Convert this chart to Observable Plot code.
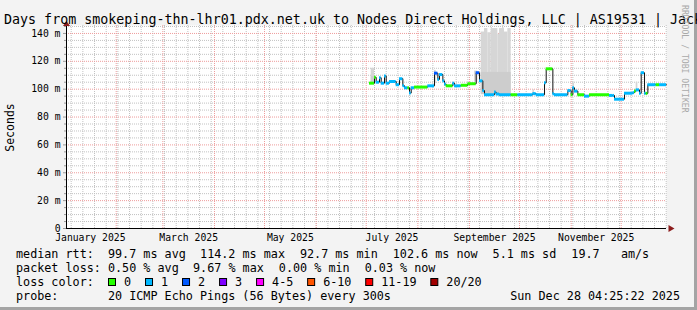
<!DOCTYPE html>
<html><head><meta charset="utf-8">
<script src="https://cdn.jsdelivr.net/npm/d3@7"></script>
<script src="https://cdn.jsdelivr.net/npm/@observablehq/plot@0.6"></script>
<style>
html,body{margin:0;padding:0;background:#f3f3f3;}
svg{display:block}
</style></head><body><div id="chart"></div>
<script>
// ---------- data ----------
const titleText = "Days from smokeping-thn-lhr01.pdx.net.uk to Nodes Direct Holdings, LLC | AS19531 | Jack";
const yAxisLabel = "Seconds";
const watermark = "RRDTOOL / TOBI OETIKER";
const timeStart = "2025-01-02T04:25:22Z";
const timeEnd = "2025-12-28T04:25:22Z";
const yMax = 145.7;
const yTicks = [0, 20, 40, 60, 80, 100, 120, 140];
const yTickLabels = ["0", "20 m", "40 m", "60 m", "80 m", "100 m", "120 m", "140 m"];
const monthLabels = ["January 2025", "March 2025", "May 2025", "July 2025", "September 2025", "November 2025"];

const medianDates = ["2025-07-03","2025-07-06","2025-07-07","2025-07-09","2025-07-10","2025-07-12","2025-07-13","2025-07-15","2025-07-19","2025-07-21","2025-07-23","2025-07-24","2025-07-26","2025-07-27","2025-07-28","2025-07-30","2025-08-07","2025-08-11","2025-08-13","2025-08-14","2025-08-16","2025-08-17","2025-08-18","2025-08-22","2025-08-23","2025-08-27","2025-08-31","2025-09-05","2025-09-07","2025-09-09","2025-09-10","2025-09-16","2025-09-17","2025-09-19","2025-09-26","2025-09-30","2025-10-09","2025-10-11","2025-10-16","2025-10-17","2025-10-21","2025-10-22","2025-10-30","2025-11-01","2025-11-02","2025-11-03","2025-11-05","2025-11-09","2025-11-12","2025-11-24","2025-11-26","2025-11-27","2025-12-03","2025-12-08","2025-12-09","2025-12-10","2025-12-12","2025-12-13","2025-12-15","2025-12-16","2025-12-17","2025-12-22","2025-12-24"];
const medianValues = [104.3,108.5,105.0,108.2,104.3,109.5,104.3,105.5,103.2,107.5,102.5,101.0,101.0,97.2,101.0,101.5,102.4,111.5,107.0,110.5,106.0,103.7,102.4,104.3,102.4,102.8,103.9,111.8,106.0,99.0,96.0,97.9,96.5,96.0,96.0,96.0,96.8,96.0,104.6,114.6,96.7,96.0,99.0,96.0,101.0,98.6,96.0,95.0,96.0,95.5,95.5,92.8,97.1,97.5,98.6,99.5,97.0,111.8,97.0,97.0,103.2,103.2,103.2];
const medianLoss = [0,0,1,1,1,1,1,1,1,1,1,1,0,1,1,0,1,2,1,1,1,1,0,1,1,0,0,2,1,1,1,1,1,1,0,1,1,1,1,0,1,1,1,0,1,1,0,1,0,1,1,1,1,1,0,1,1,1,1,0,1,0,1];
const medianEnd = "2025-12-28T04:25:22Z";

const smokeStart = ["2025-07-04","2025-08-11","2025-09-04","2025-09-08","2025-09-10","2025-09-12","2025-09-14","2025-09-18","2025-09-19","2025-09-22","2025-09-24","2025-10-09","2025-11-02","2025-12-10"];
const smokeEnd   = ["2025-07-06","2025-08-12","2025-09-06","2025-09-10","2025-09-12","2025-09-14","2025-09-18","2025-09-19","2025-09-22","2025-09-24","2025-09-26","2025-10-10","2025-11-03","2025-12-11"];
const smokeLo = [104, 104, 105, 97, 96, 96, 96, 96, 96, 96, 96, 96.5, 99, 99];
const smokeHi = [115, 113.5, 113, 141, 143.5, 140.5, 143.5, 139.5, 143.5, 141, 143.5, 99.5, 104.5, 105];
const innerStart = ["2025-07-04","2025-09-08"];
const innerEnd = ["2025-07-06","2025-09-26"];
const innerLo = [104, 96];
const innerHi = [109, 112];

const lossLabels = ["0","1","2","3","4-5","6-10","11-19","20/20"];
const lossColors = ["#26ff00","#00b8ff","#0059ff","#7e00ff","#ff00ff","#ff5500","#ff0000","#a10000"];
const rttValues = ["99.7","114.2","92.7","102.6","5.1","19.7"];
const lossValues = ["0.50","9.67","0.00","0.03"];
const probeText = "20 ICMP Echo Pings (56 Bytes) every 300s";
const stampText = "Sun Dec 28 04:25:22 2025";

// ---------- derived ----------
const day = s => new Date(s.length > 10 ? s : s + "T00:00:00Z");
const t0 = new Date(timeStart), t1 = new Date(timeEnd);
const rows = medianDates.map((d, i) => ({
  date: day(d),
  next: i < medianDates.length - 1 ? day(medianDates[i + 1]) : new Date(medianEnd),
  value: medianValues[i],
  color: lossColors[medianLoss[i]]
}));
const linePts = rows.map(r => ({date: r.date, value: r.value}))
  .concat([{date: new Date(medianEnd), value: medianValues[medianValues.length - 1]}]);
const smoke = smokeStart.map((s, i) => ({s: day(s), e: day(smokeEnd[i]), lo: smokeLo[i], hi: smokeHi[i]}));
const inner = innerStart.map((s, i) => ({s: day(s), e: day(innerEnd[i]), lo: innerLo[i], hi: innerHi[i]}));

const months = d3.utcMonth.range(t0, t1);
const weeks = d3.utcSunday.range(t0, t1);
const minorY = d3.range(5, yMax, 5).filter(v => v % 20 !== 0);
const majorY = yTicks.filter(v => v > 0);
const parseMonth = d3.utcParse("%B %Y");
const labelDates = monthLabels.map(s => {
  const m = parseMonth(s);
  return new Date((+m + +d3.utcMonth.offset(m, 1)) / 2);
});

const triUp = {draw(c) { c.moveTo(0, -4.5); c.lineTo(3.5, 0.5); c.lineTo(-3.5, 0.5); c.closePath(); }};
const triRight = {draw(c) { c.moveTo(8, 0); c.lineTo(2, 3.5); c.lineTo(2, -3.5); c.closePath(); }};

const mono = "'DejaVu Sans Mono', monospace";
const gridGrey = "#c2c2c2";
const gridRed = "#ee9c9c";

const plot = Plot.plot({
  width: 697, height: 310,
  marginLeft: 66, marginRight: 31, marginTop: 25, marginBottom: 82,
  style: {background: "#f3f3f3", fontFamily: mono, fontSize: "9.75px", color: "#000", overflow: "visible"},
  x: {type: "utc", domain: [t0, t1], axis: null},
  y: {domain: [0, yMax], axis: null},
  color: {type: "identity"},
  marks: [
    Plot.frame({fill: "white", stroke: "none"}),
    Plot.ruleX(weeks, {stroke: gridGrey, strokeDasharray: "1,1"}),
    Plot.ruleY(minorY, {stroke: gridGrey, strokeDasharray: "1,1"}),
    Plot.ruleX(months, {stroke: gridRed, strokeDasharray: "1,1"}),
    Plot.ruleY(majorY, {stroke: gridRed, strokeDasharray: "1,1"}),
    Plot.rect(smoke, {x1: "s", x2: "e", y1: "lo", y2: "hi", fill: "#d6d6d6"}),
    Plot.rect(inner, {x1: "s", x2: "e", y1: "lo", y2: "hi", fill: "#cdcdcd"}),
    Plot.line(linePts, {x: "date", y: "value", curve: "step-after", stroke: "#111", strokeWidth: 1}),
    Plot.ruleY(rows, {y: "value", x1: "date", x2: "next", stroke: "color", strokeWidth: 3}),
    Plot.axisY({ticks: minorY, tickSize: 2, tickFormat: () => "", stroke: "#999"}),
    Plot.axisY({ticks: yTicks, tickSize: 3, tickPadding: 3, stroke: "#999", fill: "#000",
      tickFormat: d => yTickLabels[yTicks.indexOf(d)], fontFamily: mono, fontSize: "9.75px"}),
    Plot.axisX({ticks: labelDates, tickSize: 0, tickPadding: 6, fill: "#000",
      tickFormat: d => monthLabels[labelDates.findIndex(t => +t === +d)], fontFamily: mono, fontSize: "9.75px"}),
    Plot.ruleX([t0], {stroke: "#000"}),
    Plot.ruleY([0], {stroke: "#000"}),
    Plot.dot([t0], {x: d => d, y: () => yMax, symbol: triUp, fill: "#8c1c1c", stroke: "none"}),
    Plot.dot([t1], {x: d => d, y: () => 0, symbol: triRight, fill: "#8c1c1c", stroke: "none"})
  ]
});

const svg = d3.select(plot);
function txt(x, y, s, size, extra = {}) {
  const t = svg.append("text")
    .attr("x", x).attr("y", y)
    .attr("xml:space", "preserve")
    .style("white-space", "pre")
    .style("font-family", mono)
    .style("font-size", size + "px")
    .attr("fill", extra.fill || "#000")
    .attr("text-anchor", extra.anchor || "start")
    .text(s);
  if (extra.transform) t.attr("transform", extra.transform).attr("x", 0).attr("y", 0);
  return t;
}

// border shading
svg.append("rect").attr("x", 694).attr("y", 0).attr("width", 3).attr("height", 310).attr("fill", "#a4a4a4");
svg.append("rect").attr("x", 0).attr("y", 307).attr("width", 697).attr("height", 3).attr("fill", "#a4a4a4");

// title / labels
txt(4, 23.5, titleText, 13.33);
txt(0, 0, yAxisLabel, 11.5, {anchor: "middle", transform: "translate(14,127.5) rotate(-90)"});
txt(0, 0, watermark, 8.15, {fill: "#a9a9a9", transform: "translate(682,5) rotate(90)"});

// legend
const cw = 7.02, gap = 15.6, fs = 11.75;
const line1 = [`median rtt:  ${rttValues[0]} ms avg`, `${rttValues[1]} ms max`, `${rttValues[2]} ms min`,
  `${rttValues[3]} ms now`, `${rttValues[4]} ms sd`, `${rttValues[5]}   am/s`];
const line2 = [`packet loss: ${lossValues[0]} % avg`, `${lossValues[1]} % max`, `${lossValues[2]} % min`, `${lossValues[3]} % now`];
function row(items, y) {
  let x = 16;
  items.forEach(s => { txt(x, y, s, fs); x += s.length * cw + gap; });
}
row(line1, 258);
row(line2, 272);
txt(16, 286, "loss color:", fs);
let bx = 108;
lossLabels.forEach((l, i) => {
  svg.append("rect").attr("x", bx + 0.5).attr("y", 278.5).attr("width", 7).attr("height", 7)
    .attr("fill", lossColors[i]).attr("stroke", "#000").attr("stroke-width", 1);
  txt(bx + 16, 286, l, fs);
  bx += 16 + l.length * cw + 14;
});
txt(16, 300, "probe:       " + probeText, fs);
txt(680, 300, stampText, fs, {anchor: "end"});

document.getElementById("chart").appendChild(plot);
</script>
</body></html>
